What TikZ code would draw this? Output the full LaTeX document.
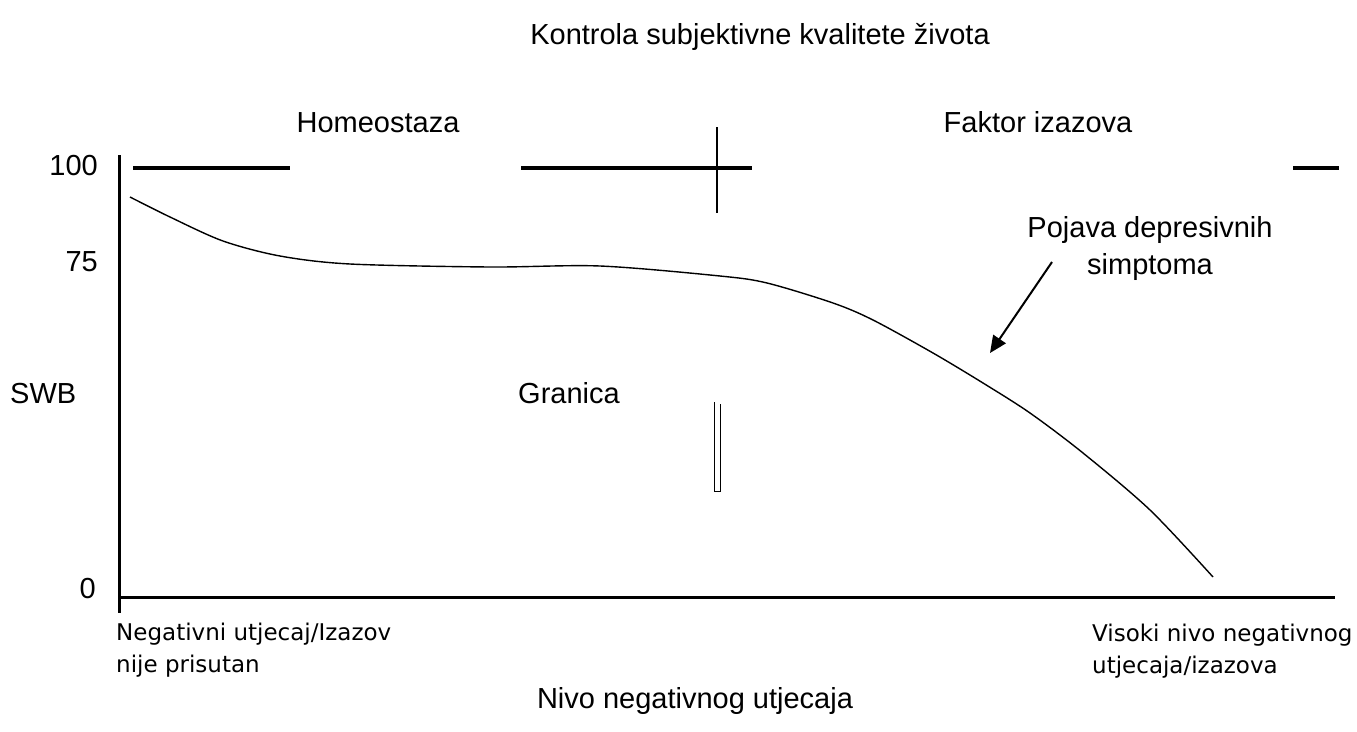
\documentclass[tikz,border=0pt]{standalone}
\usepackage{fontspec}
\setmainfont{Liberation Sans}
\newfontfamily\smallfont{DejaVu Sans}
\usetikzlibrary{arrows.meta}
\begin{document}
\begin{tikzpicture}[x=1pt,y=-1pt,
  bigtext/.style={font=\fontsize{29}{37}\selectfont, inner sep=0pt},
  smalltext/.style={font=\smallfont\fontsize{23}{32}\selectfont, inner sep=0pt, align=left},
  axisline/.style={line width=3pt},
  barline/.style={line width=4pt},
  curveline/.style={line width=1.4pt},
  pointer/.style={line width=2pt, -{Triangle[length=17pt,width=15pt]}}]
\useasboundingbox (0,0) rectangle (1357,731);
% texts
\node[bigtext, anchor=base] (title) at (760,44) {Kontrola subjektivne kvalitete života};
\node[bigtext, anchor=base] (homeo) at (378,132) {Homeostaza};
\node[bigtext, anchor=base] (faktor) at (1038,132) {Faktor izazova};
\node[bigtext, anchor=base east] (l100) at (98,175) {100};
\node[bigtext, anchor=base east] (l75) at (98,271) {75};
\node[bigtext, anchor=base west] (swb) at (10,403) {SWB};
\node[bigtext, anchor=base east] (l0) at (96,598) {0};
\node[bigtext, anchor=base] (granica) at (569,403) {Granica};
\node[bigtext, align=center, anchor=base] (pojava) at (1150,274) {Pojava depresivnih\\simptoma};
\node[bigtext, anchor=base] (xlabel) at (695,708) {Nivo negativnog utjecaja};
\node[smalltext, anchor=base west] (leftlab) at (116,672) {Negativni utjecaj/Izazov\\nije prisutan};
\node[smalltext, anchor=base west] (rightlab) at (1092,673) {Visoki nivo negativnog\\utjecaja/izazova};
% axes
\coordinate (ytop) at (119,155);
\coordinate (ybot) at (119,613);
\coordinate (xleft) at (119,597);
\coordinate (xright) at (1335,597);
\draw[axisline] (ytop) -- (ybot);
\draw[axisline] (xleft) -- (xright);
% top bars
\coordinate (b1a) at (133,168); \coordinate (b1b) at (290,168);
\coordinate (b2a) at (521,168); \coordinate (b2b) at (752,168);
\coordinate (b3a) at (1293,168); \coordinate (b3b) at (1339,168);
\draw[barline] (b1a) -- (b1b);
\draw[barline] (b2a) -- (b2b);
\draw[barline] (b3a) -- (b3b);
% vertical cross line
\coordinate (vtop) at (717,127);
\coordinate (vbot) at (717,213);
\draw[line width=2pt] (vtop) -- (vbot);
% double line (boundary marker)
\coordinate (d1) at (714.5,402);
\coordinate (d2) at (714.5,491);
\coordinate (d3) at (720.5,491);
\coordinate (d4) at (720.5,404);
\draw[line width=1pt] (d1) -- (d2) -- (d3) -- (d4);
% curve
\draw[curveline] plot[smooth, tension=0.5] coordinates {
 (130,197) (170,217) (223,241) (280,256) (350,264) (490,267) (600,266)
 (720,276) (767,283) (833,303) (873,320) (933,353) (983,383) (1030,413)
 (1083,453) (1150,510) (1213,577)};
% arrow
\coordinate (as) at (1052,262);
\coordinate (ae) at (990,353);
\draw[pointer] (as) -- (ae);
\end{tikzpicture}
\end{document}
